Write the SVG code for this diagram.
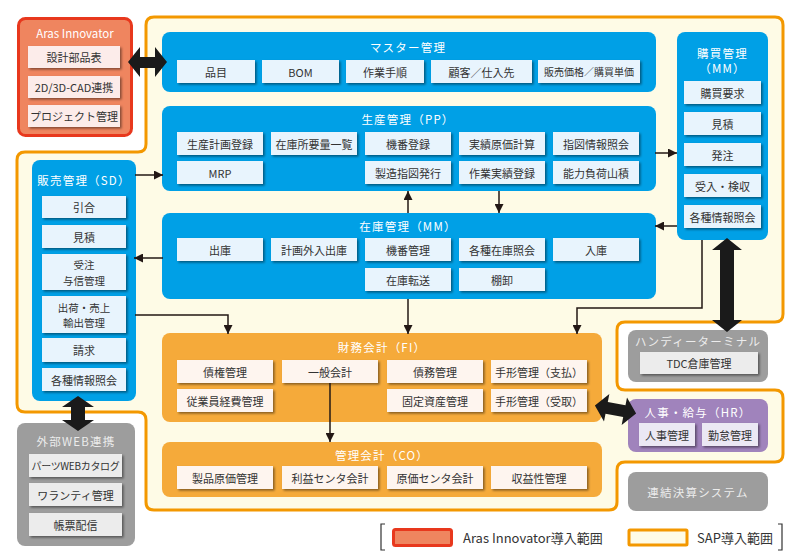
<svg xmlns="http://www.w3.org/2000/svg" width="800" height="557" viewBox="0 0 800 557">
<defs>
<filter id="sh" x="-10%" y="-20%" width="130%" height="150%"><feDropShadow dx="1.6" dy="1.6" stdDeviation="0.8" flood-color="#000" flood-opacity="0.45"/></filter>
<marker id="ah" viewBox="0 0 10 10" refX="10" refY="5" markerWidth="9" markerHeight="9" markerUnits="userSpaceOnUse" orient="auto"><path d="M0,0 L10,5 L0,10 Z" fill="#231815"/></marker>
<style>
.t{font-family:"Noto Sans CJK JP","Noto Sans",sans-serif;font-size:11px;fill:#333;text-anchor:middle;dominant-baseline:central}
.h{fill:#fff;letter-spacing:1.2px;font-size:11.5px}
.hg{fill:#ececec;letter-spacing:1.2px;font-size:11.5px}
.s{font-size:10.5px}
.blue{fill:#00a0e6}
.org{fill:#f5aa3a}
.gray{fill:#9d9d9d}
.pur{fill:#a083bc}
.bi{fill:#e8f4fd;filter:url(#sh)}
.oi{fill:#fef5ef;filter:url(#sh)}
.ai{fill:#fcecea;filter:url(#sh)}
.gi{fill:#ececec;filter:url(#sh)}
.pi{fill:#ebe8f4;filter:url(#sh)}
.ln{stroke:#231815;stroke-width:1.5;fill:none;marker-end:url(#ah)}
.big{fill:#1a1a1a}
</style>
</defs>
<rect width="800" height="557" fill="#fff"/>
<path id="sap-area" d="M146,25 Q146,17 154,17 L775,17 Q783,17 783,25 L783,314 Q783,322 775,322 L625,322 Q617,322 617,330 L617,382 Q617,390 625,390 L775,390 Q783,390 783,398 L783,454 Q783,462 775,462 L625,462 Q617,462 617,470 L617,502 Q617,510 609,510 L154,510 Q146,510 146,502 L146,420 Q146,412 138,412 L25,412 Q17,412 17,404 L17,160 Q17,152 25,152 L138,152 Q146,152 146,144 Z" fill="#fefbe6" stroke="#f39800" stroke-width="3"/>

<g id="aras">
<rect x="18.5" y="18.5" width="113" height="117" rx="7" fill="#ef855f" stroke="#e8381d" stroke-width="3"/>
<text class="t h" x="75" y="33" style="letter-spacing:0">Aras Innovator</text>
<rect class="ai" x="28" y="46" width="92" height="22"/><text class="t" x="74" y="57">設計部品表</text>
<rect class="ai" x="28" y="76" width="92" height="22"/><text class="t" x="74" y="87">2D/3D-CAD連携</text>
<rect class="ai" x="28" y="105" width="92" height="22"/><text class="t" x="74" y="116">プロジェクト管理</text>
</g>

<g id="master">
<rect class="blue" x="162" y="32" width="494" height="60" rx="8"/>
<text class="t h" x="408" y="47">マスター管理</text>
<rect class="bi" x="177" y="60" width="78" height="23"/><text class="t" x="216" y="71.5">品目</text>
<rect class="bi" x="262" y="60" width="77" height="23"/><text class="t" x="300.5" y="71.5">BOM</text>
<rect class="bi" x="346" y="60" width="78" height="23"/><text class="t" x="385" y="71.5">作業手順</text>
<rect class="bi" x="431" y="60" width="101" height="23"/><text class="t" x="481.5" y="71.5">顧客／仕入先</text>
<rect class="bi" x="538" y="60" width="102" height="23"/><text class="t" x="589" y="71.5" style="font-size:10px">販売価格／購買単価</text>
</g>

<g id="pp">
<rect class="blue" x="162" y="106" width="494" height="85" rx="8"/>
<text class="t h" x="408" y="119">生産管理（PP）</text>
<rect class="bi" x="177" y="132" width="86" height="23"/><text class="t" x="220" y="143.5">生産計画登録</text>
<rect class="bi" x="271" y="132" width="86" height="23"/><text class="t" x="314" y="143.5">在庫所要量一覧</text>
<rect class="bi" x="365" y="132" width="86" height="23"/><text class="t" x="408" y="143.5">機番登録</text>
<rect class="bi" x="459" y="132" width="86" height="23"/><text class="t" x="502" y="143.5">実績原価計算</text>
<rect class="bi" x="553" y="132" width="86" height="23"/><text class="t" x="596" y="143.5">指図情報照会</text>
<rect class="bi" x="177" y="161" width="86" height="23"/><text class="t" x="220" y="172.5">MRP</text>
<rect class="bi" x="365" y="161" width="86" height="23"/><text class="t" x="408" y="172.5">製造指図発行</text>
<rect class="bi" x="459" y="161" width="86" height="23"/><text class="t" x="502" y="172.5">作業実績登録</text>
<rect class="bi" x="553" y="161" width="86" height="23"/><text class="t" x="596" y="172.5">能力負荷山積</text>
</g>

<g id="purchase">
<rect class="blue" x="677" y="32" width="91" height="208" rx="8"/>
<text class="t h" x="722.5" y="53">購買管理</text>
<text class="t h" x="722.5" y="68">（MM）</text>
<rect class="bi" x="684" y="81" width="77" height="23"/><text class="t" x="722.5" y="92.5">購買要求</text>
<rect class="bi" x="684" y="112" width="77" height="23"/><text class="t" x="722.5" y="123.5">見積</text>
<rect class="bi" x="684" y="143" width="77" height="23"/><text class="t" x="722.5" y="154.5">発注</text>
<rect class="bi" x="684" y="174" width="77" height="23"/><text class="t" x="722.5" y="185.5">受入・検収</text>
<rect class="bi" x="684" y="205" width="77" height="23"/><text class="t" x="722.5" y="216.5">各種情報照会</text>
</g>

<g id="inventory">
<rect class="blue" x="162" y="213" width="494" height="86" rx="8"/>
<text class="t h" x="408" y="226">在庫管理（MM）</text>
<rect class="bi" x="177" y="238" width="86" height="23"/><text class="t" x="220" y="249.5">出庫</text>
<rect class="bi" x="271" y="238" width="86" height="23"/><text class="t" x="314" y="249.5">計画外入出庫</text>
<rect class="bi" x="365" y="238" width="86" height="23"/><text class="t" x="408" y="249.5">機番管理</text>
<rect class="bi" x="459" y="238" width="86" height="23"/><text class="t" x="502" y="249.5">各種在庫照会</text>
<rect class="bi" x="553" y="238" width="86" height="23"/><text class="t" x="596" y="249.5">入庫</text>
<rect class="bi" x="365" y="268" width="86" height="23"/><text class="t" x="408" y="279.5">在庫転送</text>
<rect class="bi" x="459" y="268" width="86" height="23"/><text class="t" x="502" y="279.5">棚卸</text>
</g>

<g id="sales">
<rect class="blue" x="32" y="160" width="104" height="241" rx="8"/>
<text class="t h" x="84" y="180">販売管理（SD）</text>
<rect class="bi" x="42" y="196" width="84" height="22"/><text class="t" x="84" y="207">引合</text>
<rect class="bi" x="42" y="225" width="84" height="23"/><text class="t" x="84" y="236.5">見積</text>
<rect class="bi" x="42" y="254" width="84" height="36"/><text class="t s" x="84" y="264.5">受注</text><text class="t s" x="84" y="280">与信管理</text>
<rect class="bi" x="42" y="296" width="84" height="37"/><text class="t s" x="84" y="307">出荷・売上</text><text class="t s" x="84" y="322.5">輸出管理</text>
<rect class="bi" x="42" y="338" width="84" height="24"/><text class="t" x="84" y="350">請求</text>
<rect class="bi" x="42" y="368" width="84" height="23"/><text class="t" x="84" y="379.5">各種情報照会</text>
</g>

<g id="fi">
<rect class="org" x="162" y="333" width="440" height="89" rx="8"/>
<text class="t h" x="382" y="347">財務会計（FI）</text>
<rect class="oi" x="177" y="360" width="96" height="23"/><text class="t" x="225" y="371.5">債権管理</text>
<rect class="oi" x="282" y="360" width="96" height="23"/><text class="t" x="330" y="371.5">一般会計</text>
<rect class="oi" x="387" y="360" width="96" height="23"/><text class="t" x="435" y="371.5">債務管理</text>
<rect class="oi" x="491" y="360" width="96" height="23"/><text class="t" x="539" y="371.5">手形管理（支払）</text>
<rect class="oi" x="177" y="389" width="96" height="23"/><text class="t" x="225" y="400.5">従業員経費管理</text>
<rect class="oi" x="387" y="389" width="96" height="23"/><text class="t" x="435" y="400.5">固定資産管理</text>
<rect class="oi" x="491" y="389" width="96" height="23"/><text class="t" x="539" y="400.5">手形管理（受取）</text>
</g>

<g id="co">
<rect class="org" x="162" y="442" width="440" height="55" rx="8"/>
<text class="t h" x="382" y="455">管理会計（CO）</text>
<rect class="oi" x="177" y="466" width="96" height="23"/><text class="t" x="225" y="477.5">製品原価管理</text>
<rect class="oi" x="282" y="466" width="96" height="23"/><text class="t" x="330" y="477.5">利益センタ会計</text>
<rect class="oi" x="387" y="466" width="96" height="23"/><text class="t" x="435" y="477.5">原価センタ会計</text>
<rect class="oi" x="491" y="466" width="96" height="23"/><text class="t" x="539" y="477.5">収益性管理</text>
</g>

<g id="handy">
<rect class="gray" x="628" y="330" width="140" height="52" rx="8"/>
<text class="t hg" x="698" y="341">ハンディーターミナル</text>
<rect class="gi" x="640" y="352" width="118" height="22"/><text class="t" x="699" y="363">TDC倉庫管理</text>
</g>

<g id="hr">
<rect class="pur" x="628" y="399" width="140" height="53" rx="8"/>
<text class="t h" x="698" y="412">人事・給与（HR）</text>
<rect class="pi" x="639" y="423" width="56" height="23"/><text class="t" x="667" y="434.5">人事管理</text>
<rect class="pi" x="702" y="423" width="56" height="23"/><text class="t" x="730" y="434.5">勤怠管理</text>
</g>

<g id="consolidated">
<rect class="gray" x="628" y="472" width="140" height="39" rx="8"/>
<text class="t hg" x="698" y="492">連結決算システム</text>
</g>

<g id="web">
<rect class="gray" x="17" y="423" width="118" height="123" rx="8"/>
<text class="t hg" x="76" y="441">外部WEB連携</text>
<rect class="gi" x="29" y="454" width="93" height="23"/><text class="t" x="75.5" y="465.5" style="font-size:10px;letter-spacing:-0.3px">パーツWEBカタログ</text>
<rect class="gi" x="29" y="483" width="93" height="23"/><text class="t" x="75.5" y="494.5">ワランティ管理</text>
<rect class="gi" x="29" y="513" width="93" height="23"/><text class="t" x="75.5" y="524.5">帳票配信</text>
</g>

<g id="connectors">
<path class="ln" d="M135,175 H163"/>
<path class="ln" d="M655,153 H677"/>
<path class="ln" d="M677,226 H655"/>
<path class="ln" d="M408,213 V191"/>
<path class="ln" d="M499,191 V213"/>
<path class="ln" d="M163,258 H134"/>
<path class="ln" d="M408,299 V334"/>
<path class="ln" d="M135,315 H228 V334"/>
<path class="ln" d="M702,240 V308 H577 V334"/>
<path class="ln" d="M330,383 V442"/>
<polygon class="big" points="128,62 140,47 140,57 155,57 155,47 167,62 155,77 155,68 140,68 140,77"/>
<polygon class="big" points="727,238 742,250 734,250 734,320 742,320 727,332 712,320 720,320 720,250 712,250"/>
<polygon class="big" points="78,396 94,407 85,407 85,420 94,420 78,431 62,420 71,420 71,407 62,407"/>
<polygon class="big" transform="translate(615.5,409.5) rotate(11)" points="-21,0 -9,-14 -9,-6 9,-6 9,-14 21,0 9,14 9,6 -9,6 -9,14"/>
</g>

<g id="legend">
<path d="M385,524 H381 V550 H385" fill="none" stroke="#333" stroke-width="1.2"/>
<path d="M778,524 H782 V550 H778" fill="none" stroke="#333" stroke-width="1.2"/>
<rect x="393.5" y="529.5" width="58" height="16" rx="2" fill="#ef855f" stroke="#e8381d" stroke-width="3"/>
<text class="t" x="463" y="537.5" style="text-anchor:start;font-size:13px">Aras Innovator導入範囲</text>
<rect x="629" y="530" width="58" height="15" rx="1" fill="#fefbe6" stroke="#f39800" stroke-width="3"/>
<text class="t" x="697" y="537.5" style="text-anchor:start;font-size:13px">SAP導入範囲</text>
</g>
</svg>
